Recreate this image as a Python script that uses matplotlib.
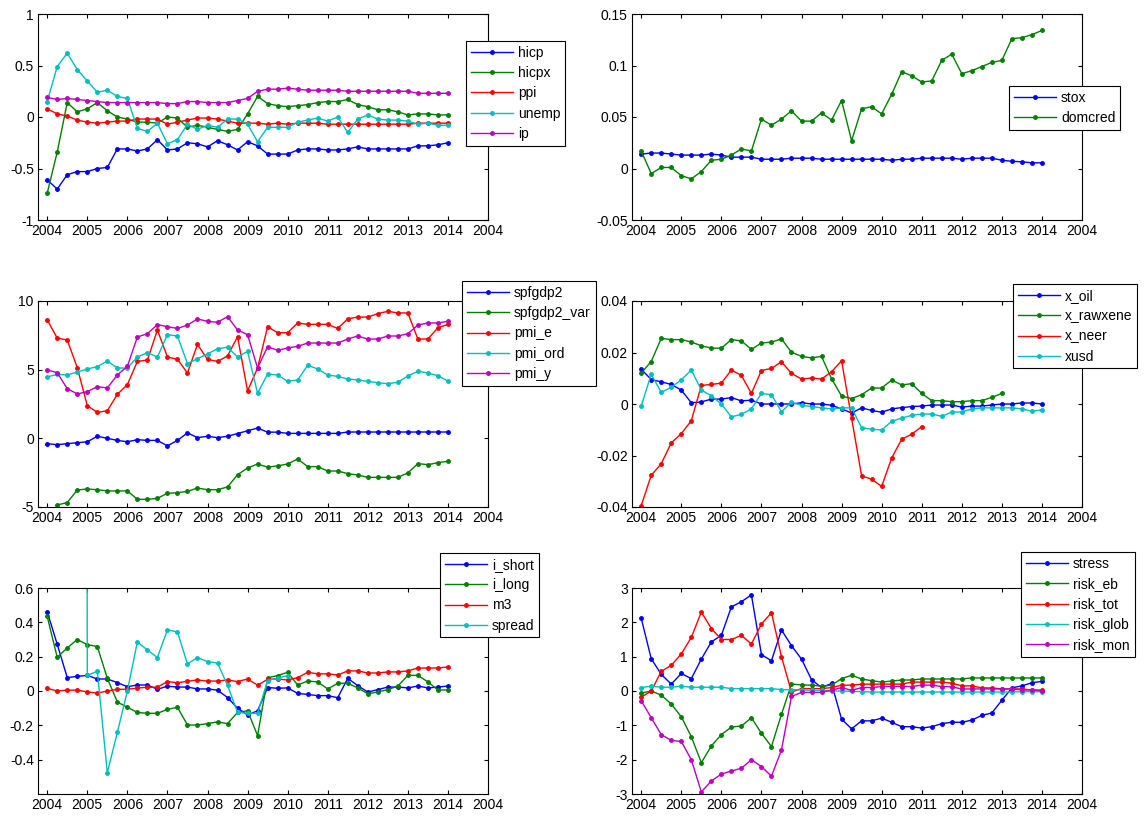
import numpy as np
import matplotlib
matplotlib.use("Agg")
import matplotlib.pyplot as plt
from matplotlib.ticker import FuncFormatter

nan = np.nan

# quarterly dates 2004Q1 .. 2014Q1
quarters = np.arange(2004, 2014.01, 0.25)
year_ticks = np.arange(2004, 2016)
year_labels = [str(y) for y in range(2004, 2015)] + ['2004']

# panel 1
hicp = [-0.61, -0.70, -0.56, -0.53, -0.53, -0.50, -0.49, -0.31, -0.31, -0.33, -0.31, -0.22,
        -0.32, -0.31, -0.25, -0.26, -0.29, -0.23, -0.27, -0.32, -0.24, -0.28, -0.36, -0.36,
        -0.36, -0.32, -0.31, -0.31, -0.32, -0.32, -0.31, -0.29, -0.31, -0.31, -0.31, -0.31,
        -0.31, -0.28, -0.28, -0.27, -0.25]
hicpx = [-0.74, -0.34, 0.14, 0.05, 0.08, 0.14, 0.06, 0.00, -0.02, -0.05, -0.05, -0.06,
         0.00, -0.01, -0.10, -0.08, -0.10, -0.12, -0.14, -0.12, 0.03, 0.20, 0.13, 0.11,
         0.10, 0.11, 0.12, 0.14, 0.15, 0.15, 0.17, 0.12, 0.10, 0.07, 0.07, 0.05,
         0.02, 0.03, 0.03, 0.02, 0.02]
ppi = [0.08, 0.03, 0.01, -0.03, -0.05, -0.06, -0.05, -0.04, -0.04, -0.02, -0.02, -0.02,
       -0.07, -0.05, -0.03, -0.01, -0.01, -0.02, -0.04, -0.06, -0.06, -0.06, -0.07, -0.06,
       -0.07, -0.06, -0.06, -0.06, -0.07, -0.07, -0.07, -0.07, -0.07, -0.07, -0.07, -0.07,
       -0.07, -0.06, -0.06, -0.06, -0.06]
unemp = [0.15, 0.49, 0.62, 0.46, 0.35, 0.24, 0.26, 0.20, 0.18, -0.11, -0.14, -0.06,
         -0.26, -0.22, -0.07, -0.12, -0.08, -0.10, -0.02, -0.02, -0.07, -0.24, -0.10, -0.10,
         -0.10, -0.05, -0.03, -0.01, -0.04, 0.00, -0.15, -0.02, 0.02, -0.02, -0.03, -0.03,
         -0.04, -0.07, -0.06, -0.08, -0.08]
ip = [0.19, 0.17, 0.18, 0.17, 0.16, 0.15, 0.14, 0.14, 0.14, 0.14, 0.14, 0.14,
      0.13, 0.13, 0.15, 0.15, 0.14, 0.14, 0.14, 0.16, 0.18, 0.25, 0.27, 0.27,
      0.28, 0.27, 0.26, 0.26, 0.26, 0.26, 0.25, 0.25, 0.25, 0.25, 0.25, 0.25,
      0.25, 0.23, 0.23, 0.23, 0.23]

# panel 2
stox = [0.014, 0.015, 0.015, 0.014, 0.013, 0.013, 0.013, 0.014, 0.013, 0.011, 0.011, 0.011,
        0.009, 0.009, 0.009, 0.010, 0.010, 0.010, 0.009, 0.009, 0.009, 0.009, 0.009, 0.009,
        0.009, 0.008, 0.009, 0.009, 0.010, 0.010, 0.010, 0.010, 0.009, 0.010, 0.010, 0.010,
        0.008, 0.007, 0.0065, 0.0055, 0.0055]
domcred = [0.017, -0.005, 0.001, 0.001, -0.007, -0.010, -0.003, 0.008, 0.009, 0.013, 0.019, 0.017,
           0.048, 0.042, 0.048, 0.056, 0.046, 0.046, 0.054, 0.047, 0.066, 0.027, 0.058, 0.060,
           0.053, 0.072, 0.094, 0.090, 0.084, 0.085, 0.105, 0.111, 0.092, 0.095, 0.099, 0.103,
           0.105, 0.126, 0.127, 0.130, 0.134]

# panel 3
spfgdp2 = [-0.39, -0.46, -0.39, -0.32, -0.25, 0.15, 0.0, -0.15, -0.25, -0.1, -0.15, -0.15,
           -0.55, -0.15, 0.4, 0.05, 0.15, 0.05, 0.15, 0.35, 0.55, 0.75, 0.45, 0.45,
           0.36, 0.36, 0.36, 0.36, 0.36, 0.36, 0.46, 0.46, 0.46, 0.46, 0.46, 0.46,
           0.46, 0.46, 0.46, 0.46, 0.46]
spfgdp2_var = [nan, -4.85, -4.68, -3.76, -3.69, -3.74, -3.83, -3.83, -3.83, -4.44, -4.44, -4.37,
               -4.0, -3.96, -3.86, -3.62, -3.74, -3.74, -3.54, -2.65, -2.16, -1.87, -2.1, -2.0,
               -1.87, -1.5, -2.06, -2.06, -2.38, -2.38, -2.57, -2.67, -2.84, -2.84, -2.84, -2.84,
               -2.52, -1.84, -1.92, -1.77, -1.67]
pmi_e = [8.62, 7.3, 7.16, 5.15, 2.38, 1.89, 2.01, 3.2, 3.91, 5.6, 5.7, 7.89,
         5.92, 5.75, 4.76, 6.84, 5.75, 5.6, 6.0, 7.4, 3.45, 5.12, 8.13, 7.69,
         7.69, 8.4, 8.3, 8.3, 8.3, 8.0, 8.7, 8.83, 8.83, 9.08, 9.25, 9.13,
         9.13, 7.23, 7.23, 8.05, 8.3]
pmi_ord = [4.47, 4.66, 4.61, 4.83, 5.05, 5.22, 5.63, 5.12, 5.12, 5.92, 6.24, 5.92,
           7.55, 7.45, 5.44, 5.8, 6.14, 6.53, 6.63, 5.92, 6.33, 3.28, 4.68, 4.61,
           4.15, 4.25, 5.32, 5.05, 4.61, 4.51, 4.32, 4.25, 4.15, 4.05, 3.98, 4.08,
           4.54, 4.88, 4.76, 4.56, 4.17]
pmi_y = [4.98, 4.78, 3.62, 3.23, 3.4, 3.76, 3.67, 4.61, 5.24, 7.38, 7.62, 8.28,
         8.13, 8.0, 8.25, 8.69, 8.52, 8.45, 8.86, 7.89, 7.55, 5.12, 6.67, 6.41,
         6.58, 6.7, 6.94, 6.94, 6.94, 6.94, 7.23, 7.45, 7.23, 7.23, 7.45, 7.45,
         7.62, 8.25, 8.4, 8.4, 8.52]

# panel 4
x_oil = [0.0135, 0.0095, 0.0086, 0.0076, 0.0054, 0.0005, 0.0008, 0.0019, 0.0019, 0.0025, 0.0012, 0.0015,
         0.0, 0.0, 0.0, 0.0, 0.0005, 0.0, 0.0, -0.0005, -0.0019, -0.0035, -0.0015, -0.0025,
         -0.0032, -0.0019, -0.0014, -0.001, -0.0008, -0.0004, -0.0004, -0.0004, -0.0012, -0.0008, -0.0008, -0.0004,
         0.0, 0.0, 0.0004, 0.0004, 0.0]
x_rawxene = [0.012, 0.0165, 0.0255, 0.025, 0.025, 0.0241, 0.0226, 0.0217, 0.0217, 0.025, 0.0245, 0.0212,
             0.0237, 0.024, 0.0253, 0.0201, 0.0185, 0.0179, 0.0185, 0.0098, 0.0031, 0.0021, 0.0036, 0.0062,
             0.0062, 0.0093, 0.0074, 0.0079, 0.0041, 0.0013, 0.0013, 0.0009, 0.0009, 0.0013, 0.0013, 0.0026,
             0.0041, nan, nan, nan, nan]
x_neer = [-0.0395, -0.0277, -0.0232, -0.0151, -0.0115, -0.0065, 0.0072, 0.0076, 0.0081, 0.0132, 0.0111, 0.0041,
          0.0130, 0.0138, 0.0164, 0.0119, 0.0097, 0.0101, 0.0097, 0.0125, 0.0168, -0.0055, -0.0279, -0.0292,
          -0.0320, -0.0210, -0.0137, -0.0117, -0.0088, nan, nan, nan, nan, nan, nan, nan,
          nan, nan, nan, nan, nan]
xusd = [-0.0008, 0.0116, 0.0045, 0.0065, 0.0094, 0.0132, 0.0054, 0.0032, 0.0, -0.005, -0.004, -0.0019,
        0.0041, 0.0036, -0.003, 0.0007, -0.0005, -0.001, -0.0015, -0.0019, -0.0015, -0.0015, -0.0092, -0.0098,
        -0.0101, -0.0067, -0.0055, -0.0044, -0.0039, -0.0039, -0.0048, -0.0031, -0.0031, -0.0019, -0.0015, -0.0015,
        -0.0015, -0.0015, -0.0019, -0.0028, -0.0023]

# panel 5
i_short = [0.461, 0.272, 0.078, 0.085, 0.091, 0.07, 0.07, 0.049, 0.025, 0.035, 0.035, 0.01,
           0.028, 0.023, 0.023, 0.012, 0.012, 0.005, -0.038, -0.1, -0.14, -0.115, 0.02, 0.016,
           0.018, -0.014, -0.02, -0.027, -0.027, -0.039, 0.074, 0.031, -0.006, 0.008, 0.023, 0.023,
           0.018, 0.029, 0.018, 0.023, 0.029]
i_long = [0.434, 0.196, 0.251, 0.3, 0.27, 0.259, 0.074, -0.064, -0.095, -0.125, -0.13, -0.13,
          -0.107, -0.095, -0.198, -0.198, -0.19, -0.18, -0.19, -0.125, -0.115, -0.26, 0.077, 0.09,
          0.109, 0.035, 0.058, 0.053, 0.012, 0.045, 0.045, 0.018, -0.016, -0.006, 0.008, 0.029,
          0.091, 0.091, 0.053, 0.006, 0.006]
m3 = [0.016, 0.0, 0.005, 0.005, -0.005, -0.012, 0.0, 0.01, 0.01, 0.017, 0.022, 0.022,
      0.055, 0.048, 0.057, 0.064, 0.058, 0.058, 0.064, 0.055, 0.07, 0.034, 0.068, 0.07,
      0.064, 0.078, 0.109, 0.1, 0.1, 0.093, 0.117, 0.117, 0.105, 0.105, 0.111, 0.111,
      0.117, 0.134, 0.134, 0.134, 0.14]
spread = [nan, nan, nan, 40.0, 0.091, 0.115, -0.477, -0.241, 0.0, 0.286, 0.239, 0.195,
          0.356, 0.344, 0.158, 0.195, 0.171, 0.163, 0.033, -0.125, -0.13, -0.13, 0.06, 0.075,
          0.09, nan, nan, nan, nan, nan, nan, nan, nan, nan, nan, nan,
          nan, nan, nan, nan, nan]

# panel 6
stress = [2.12, 0.94, 0.485, 0.2, 0.51, 0.36, 0.93, 1.43, 1.62, 2.45, 2.6, 2.8,
          1.06, 0.88, 1.78, 1.32, 0.93, 0.33, 0.1, 0.22, -0.82, -1.1, -0.87, -0.87,
          -0.79, -0.91, -1.04, -1.04, -1.08, -1.04, -0.95, -0.91, -0.91, -0.85, -0.71, -0.64,
          -0.27, 0.09, 0.15, 0.24, 0.28]
risk_eb = [-0.06, 0.0, -0.12, -0.38, -0.75, -1.33, -2.09, -1.6, -1.27, -1.05, -1.02, -0.78,
           -1.23, -1.62, -0.68, 0.2, 0.18, 0.17, 0.14, 0.17, 0.36, 0.46, 0.35, 0.3,
           0.26, 0.29, 0.32, 0.32, 0.35, 0.35, 0.35, 0.35, 0.35, 0.38, 0.38, 0.38,
           0.38, 0.38, 0.38, 0.38, 0.38]
risk_tot = [-0.18, 0.0, 0.57, 0.75, 1.08, 1.56, 2.3, 1.82, 1.5, 1.5, 1.62, 1.37,
            1.95, 2.28, 1.0, -0.03, 0.07, 0.07, 0.07, 0.1, 0.17, 0.17, 0.2, 0.2,
            0.2, 0.2, 0.2, 0.26, 0.26, 0.26, 0.26, 0.23, 0.15, 0.15, 0.09, 0.09,
            0.06, 0.06, 0.06, 0.03, 0.03]
risk_glob = [0.1, 0.14, 0.11, 0.11, 0.14, 0.11, 0.11, 0.11, 0.11, 0.07, 0.07, 0.07,
             0.07, 0.07, 0.04, 0.04, 0.03, 0.02, 0.02, 0.0, 0.0, -0.01, -0.02, -0.03,
             -0.03, -0.03, -0.03, -0.03, -0.03, -0.03, -0.03, -0.03, -0.03, -0.03, -0.03, -0.03,
             -0.03, -0.03, -0.02, -0.02, -0.02]
risk_mon = [-0.28, -0.78, -1.27, -1.44, -1.47, -2.0, -2.94, -2.62, -2.42, -2.33, -2.25, -2.0,
            -2.2, -2.48, -1.72, -0.16, -0.04, -0.04, -0.04, 0.02, 0.1, 0.02, 0.1, 0.1,
            0.13, 0.13, 0.13, 0.13, 0.17, 0.17, 0.13, 0.12, 0.06, 0.06, 0.06, 0.06,
            0.06, 0.06, 0.03, 0.03, 0.0]

# MATLAB default line colours
colors = [(0, 0, 1), (0, 0.5, 0), (1, 0, 0), (0, 0.75, 0.75), (0.75, 0, 0.75)]

plt.rcParams['font.family'] = ['Liberation Sans', 'DejaVu Sans']
plt.rcParams['axes.unicode_minus'] = False

W, H = 1147, 816
fig = plt.figure(figsize=(W / 100, H / 100), dpi=100)


def panel(box, series, names, ylim, yticks, leg_pos):
    x0, y0, x1, y1 = box
    ax = fig.add_axes([x0 / W, 1 - y1 / H, (x1 - x0) / W, (y1 - y0) / H])
    for s, name, c in zip(series, names, colors):
        ax.plot(quarters, s, '.-', color=c, lw=1, ms=5, label=name)
    ax.set_xlim(2003.77, 2015)
    ax.set_ylim(*ylim)
    ax.set_xticks(year_ticks)
    ax.set_xticklabels(year_labels)
    ax.set_yticks(yticks)
    ax.yaxis.set_major_formatter(FuncFormatter(lambda v, p: '%g' % round(v, 6)))
    ax.tick_params(direction='in', length=3, width=0.8, top=True, right=True,
                   labelsize=10, pad=3)
    for sp in ax.spines.values():
        sp.set_linewidth(0.8)
    leg = ax.legend(loc='upper left', bbox_to_anchor=(leg_pos[0] / W, 1 - leg_pos[1] / H),
                    bbox_transform=fig.transFigure, borderaxespad=0, fontsize=10,
                    fancybox=False, framealpha=1, edgecolor='black', handlelength=3,
                    handletextpad=0.4, labelspacing=0.45, borderpad=0.35)
    leg.get_frame().set_linewidth(0.8)
    return ax


lx, rx = (38, 488), (632, 1082)
r1, r2, r3 = (14, 220), (301, 507), (588, 794)

panel((lx[0], r1[0], lx[1], r1[1]), [hicp, hicpx, ppi, unemp, ip],
      ['hicp', 'hicpx', 'ppi', 'unemp', 'ip'], (-1, 1), [-1, -0.5, 0, 0.5, 1], (466, 41))
panel((rx[0], r1[0], rx[1], r1[1]), [stox, domcred], ['stox', 'domcred'],
      (-0.05, 0.15), [-0.05, 0, 0.05, 0.1, 0.15], (1009, 86))
panel((lx[0], r2[0], lx[1], r2[1]), [spfgdp2, spfgdp2_var, pmi_e, pmi_ord, pmi_y],
      ['spfgdp2', 'spfgdp2_var', 'pmi_e', 'pmi_ord', 'pmi_y'], (-5, 10), [-5, 0, 5, 10], (462, 281))
panel((rx[0], r2[0], rx[1], r2[1]), [x_oil, x_rawxene, x_neer, xusd],
      ['x_oil', 'x_rawxene', 'x_neer', 'xusd'], (-0.04, 0.04), [-0.04, -0.02, 0, 0.02, 0.04], (1013, 284))
panel((lx[0], r3[0], lx[1], r3[1]), [i_short, i_long, m3, spread],
      ['i_short', 'i_long', 'm3', 'spread'], (-0.6, 0.6), [-0.4, -0.2, 0, 0.2, 0.4, 0.6], (440, 553))
panel((rx[0], r3[0], rx[1], r3[1]), [stress, risk_eb, risk_tot, risk_glob, risk_mon],
      ['stress', 'risk_eb', 'risk_tot', 'risk_glob', 'risk_mon'], (-3, 3), [-3, -2, -1, 0, 1, 2, 3], (1021, 552))

fig.savefig('out.png', dpi=100)
